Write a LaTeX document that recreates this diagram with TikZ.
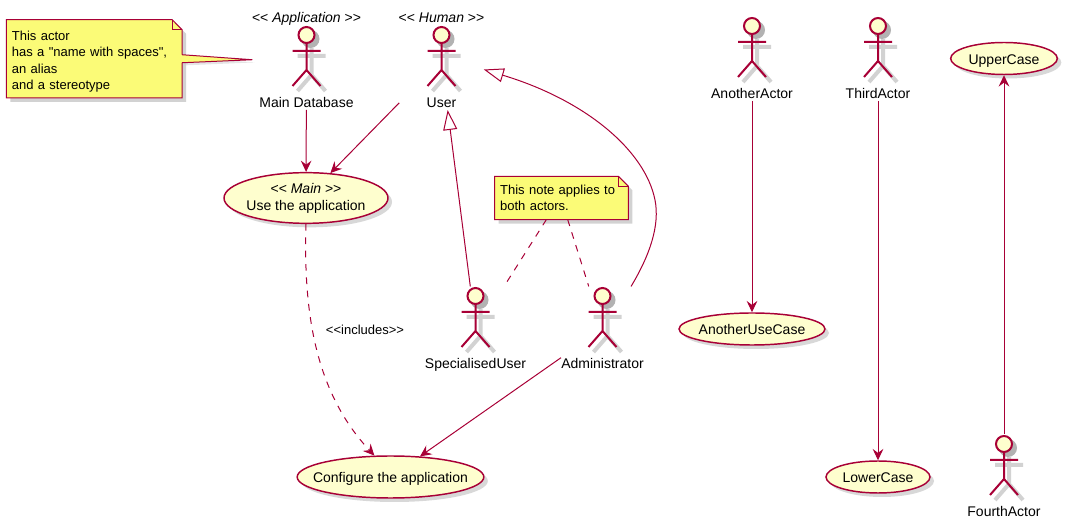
\documentclass[tikz,border=0pt]{standalone}
\usepackage{fontspec}
\setmainfont{Liberation Sans}[Ligatures=TeXOff]
\usepackage{xcolor}
\usetikzlibrary{arrows.meta,positioning,shapes.geometric,shadows}
\definecolor{umlred}{HTML}{A80036}
\definecolor{umlfill}{HTML}{FEFECE}
\definecolor{notefill}{HTML}{FBFB77}

\begin{document}
\begin{tikzpicture}[
    x=0.75pt, y=-0.75pt,
    font=\fontsize{10.5}{12.75}\selectfont,
    usecase/.style={ellipse, draw=umlred, fill=umlfill, line width=1.1pt,
                    inner sep=-15pt, align=center,
                    drop shadow={shadow xshift=3pt, shadow yshift=-3pt, fill=gray!60}},
    onecase/.style={usecase, text height=9pt, text depth=0pt},
    actor/.style={rectangle, anchor=south, inner sep=0pt,
                  text depth=1.5pt, text height=61.5pt,
                  append after command={\pgfextra{
                    \begin{scope}[shift={(\tikzlastnode.south)}]
                      \draw[gray!35, line width=3pt, shift={(5,5)}]
                          (-14,-59) -- (14,-59) (0,-67) -- (0,-40)
                          (-14,-24) -- (0,-40) -- (14,-24);
                      \fill[gray!60] (4,-71) circle[radius=9];
                      \draw[umlred, line width=1.5pt]
                          (-14,-59) -- (14,-59) (0,-67) -- (0,-40)
                          (-14,-24) -- (0,-40) -- (14,-24);
                      \draw[umlred, fill=umlfill, line width=1.5pt] (0,-75) circle[radius=8];
                    \end{scope}}}},
    stereo/.style={inner sep=0pt},
    note/.style={rectangle, inner sep=4pt, align=left,
                 font=\fontsize{9.75}{12.2}\selectfont,
                 append after command={\pgfextra{
                    \draw[umlred, fill=notefill, line width=0.75pt,
                          drop shadow={shadow xshift=3pt, shadow yshift=-3pt, fill=gray!70}]
                        (\tikzlastnode.north west)
                        -- ([xshift=-7.5pt]\tikzlastnode.north east)
                        -- ([yshift=-7.5pt]\tikzlastnode.north east)
                        -- (\tikzlastnode.south east)
                        -- (\tikzlastnode.south west) -- cycle;
                    \draw[umlred, line width=0.75pt]
                        ([xshift=-7.5pt]\tikzlastnode.north east)
                        -- ([xshift=-7.5pt,yshift=-7.5pt]\tikzlastnode.north east)
                        -- ([yshift=-7.5pt]\tikzlastnode.north east);}}},
    arr/.style={-{Stealth[length=8.5pt, width=8pt, inset=3pt]}, umlred, line width=0.75pt},
    inherit/.style={-{Triangle[length=15pt, width=10.5pt, fill=white]}, umlred, line width=0.75pt},
    notelink/.style={umlred, line width=0.75pt, dash pattern=on 5pt off 5pt}
]
\useasboundingbox (0,0) rectangle (1075,530);
% --- notes --------------------------------------------------------------
\node[note, minimum width=131.5pt, minimum height=56pt, text width=123.5pt] (dbNote) at (94.25,58.75)
    {\rule{0pt}{11.5pt}This actor \\ has a "name with spaces", \\ an alias \\ and a stereotype};
\node[note, minimum width=100pt, minimum height=32pt, text width=92pt] (bothNote) at (561.5,198)
    {This note applies to \\ both actors.};
% --- actors -------------------------------------------------------------
\node[actor, minimum width=81pt, text height=73.5pt] (mainDb) at (306.5,110) {Main Database};
\node[actor, minimum width=63pt, text height=73.5pt] (user)   at (441.5,110) {User};
\node[actor] (specUser) at (475.5,371) {SpecialisedUser};
\node[actor] (admin)    at (602.5,371) {Administrator};
\node[actor] (another)  at (752,101)   {AnotherActor};
\node[actor] (third)    at (878,101)   {ThirdActor};
\node[actor] (fourth)   at (1004,519)  {FourthActor};
\node[stereo, below=2pt of mainDb.north] (mainDbType) {<< \textit{Application} >>};
\node[stereo, below=2pt of user.north]   (userType)   {<< \textit{Human} >>};
% --- use cases ----------------------------------------------------------
\node[usecase, minimum width=123pt, minimum height=38pt] (useApp) at (306,198)
    {<< \textit{Main} >> \\ Use the application};
\node[onecase, minimum width=140pt, minimum height=31.5pt] (configure) at (390.5,477)
    {Configure the application};
\node[onecase, minimum width=109.5pt, minimum height=24pt] (anotherCase) at (752,329) {AnotherUseCase};
\node[onecase, minimum width=78pt, minimum height=24pt]  (lower) at (878,477)  {LowerCase};
\node[onecase, minimum width=80pt, minimum height=24pt]  (upper) at (1004,58.5) {UpperCase};
% --- note tail ----------------------------------------------------------
\fill[notefill, drop shadow={shadow xshift=2pt, shadow yshift=-2pt, fill=gray!40}]
    ([shift={(-1,-4)}]dbNote.east) -- (mainDb.west) -- ([shift={(-1,4)}]dbNote.east) -- cycle;
\draw[umlred, line width=0.75pt] ([yshift=3pt]dbNote.east) -- (mainDb.west) -- ([yshift=-3pt]dbNote.east);
% --- arrows -------------------------------------------------------------
\draw[arr] (mainDb) -- (useApp);
\draw[arr] (user) -- (useApp);
\draw[arr] (admin) -- (configure);
\draw[arr] (another) -- (anotherCase);
\draw[arr] (third) -- (lower);
\draw[arr] (fourth) -- (upper);
\draw[arr, dash pattern=on 5pt off 5pt] (useApp.south)
    .. controls (303,320) and (318,395) .. (configure.127);
\node[font=\fontsize{9.75}{12}\selectfont] (includes) at (365,330) {<<includes>>};
\draw[inherit] (specUser.97) -- (user.-83);
\draw[inherit] (admin.56) .. controls (650,255) and (660,225) .. (655,200)
    .. controls (645,150) and (585,100) .. (user.-13);
\draw[notelink] (bothNote.235) -- (specUser.56);
\draw[notelink] (bothNote.286) -- (admin.108);
\end{tikzpicture}
\end{document}
